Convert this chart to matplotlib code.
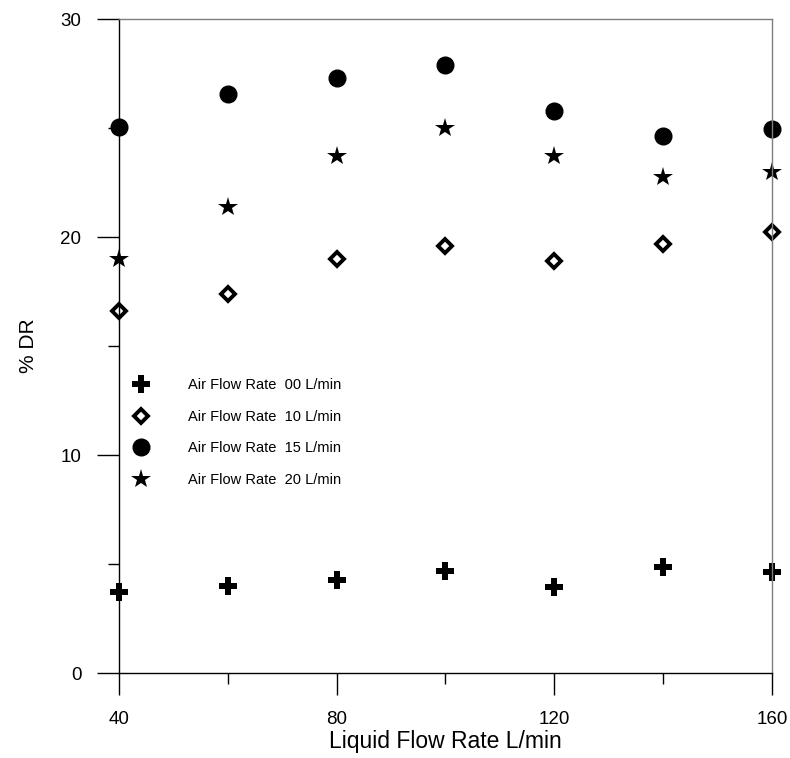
import matplotlib
matplotlib.use("Agg")
import matplotlib.pyplot as plt
from matplotlib import font_manager as fm

names = {f.name for f in fm.fontManager.ttflist}
fam = "Liberation Sans Narrow" if "Liberation Sans Narrow" in names else "Liberation Sans"
plt.rcParams['font.family'] = [fam, 'DejaVu Sans']

liquid_flow = [40, 60, 80, 100, 120, 140, 160]
dr_air00 = [3.70, 3.99, 4.29, 4.69, 3.96, 4.85, 4.62]
dr_air10 = [16.6, 17.4, 19.0, 19.6, 18.9, 19.7, 20.25]
dr_air15 = [25.05, 26.55, 27.3, 27.9, 25.8, 24.65, 24.95]
dr_air20 = [18.97, 21.4, 23.7, 25.0, 23.7, 22.75, 23.0]
labels = ["Air Flow Rate  00 L/min", "Air Flow Rate  10 L/min",
          "Air Flow Rate  15 L/min", "Air Flow Rate  20 L/min"]
x_ticks = [40, 80, 120, 160]
y_ticks = [0, 10, 20, 30]

fig = plt.figure(figsize=(7.9, 7.58), dpi=100)
ax = fig.add_axes([0.1506, 0.1121, 0.8266, 0.8628])

ax.plot(liquid_flow, dr_air00, linestyle='none', marker='P', markersize=12.5,
        color='black', markeredgewidth=0, label=labels[0], clip_on=False)
ax.plot(liquid_flow, dr_air10, linestyle='none', marker='D', markersize=7.5,
        markerfacecolor='white', markeredgecolor='black', markeredgewidth=2.8,
        label=labels[1], clip_on=False)
ax.plot(liquid_flow, dr_air15, linestyle='none', marker='o', markersize=12,
        color='black', label=labels[2], clip_on=False)
ax.plot(liquid_flow, dr_air20, linestyle='none', marker='*', markersize=15,
        color='black', markeredgewidth=0, label=labels[3], clip_on=False)

ax.set_xlim(40, 160)
ax.set_ylim(0, 30)
ax.set_xticks(x_ticks)
ax.set_yticks(y_ticks)
ax.set_xticks([60, 100, 140], minor=True)
ax.set_yticks([5, 15, 25], minor=True)
ax.tick_params(which='major', direction='out', length=16, width=1, labelsize=13.5, pad=11)
ax.tick_params(which='minor', direction='out', length=8, width=1)
for s in ['top', 'right']:
    ax.spines[s].set_color('#7f7f7f')
for s in ['left', 'bottom']:
    ax.spines[s].set_color('black')
for s in ax.spines.values():
    s.set_linewidth(1)

ax.set_xlabel("Liquid Flow Rate L/min", fontsize=16.5, labelpad=2)
ax.set_ylabel("% DR", fontsize=15, labelpad=16)

ax.legend(loc='upper left', bbox_to_anchor=(0.0, 0.466), frameon=False,
          fontsize=10.5, handletextpad=2.45, labelspacing=1.2, borderaxespad=0.3,
          handlelength=1.6)

fig.savefig("out.png", dpi=100)
